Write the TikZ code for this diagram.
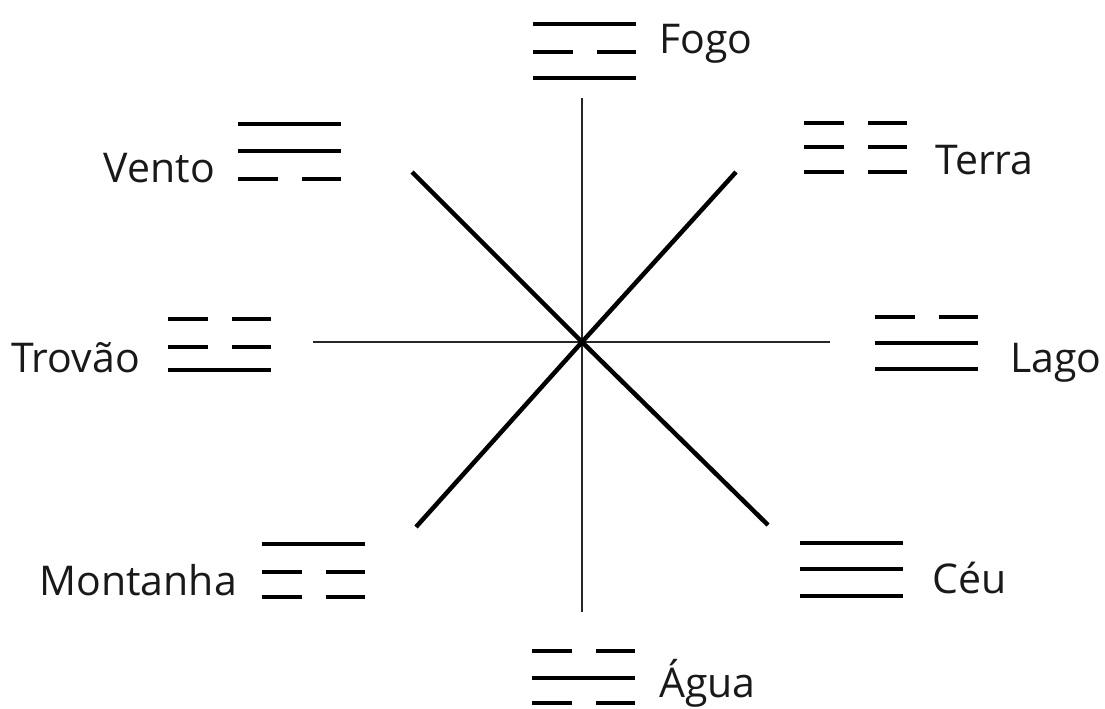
\documentclass[tikz,border=0pt]{standalone}
\usepackage{fontspec}
\setmainfont{Open Sans}
\tikzset{
  tri/.style={line width=3.2pt, black},
  axis/.style={line width=2.4pt, black!85},
  diag/.style={line width=4.5pt, black},
  lbl/.style={font=\fontsize{41}{48}\selectfont, inner sep=0pt, text=black!90}
}
\newcommand\trigYang[2]{\draw[tri] (#1,#2) -- ++(103,0);}
\newcommand\trigYin[2]{\draw[tri] (#1,#2) -- ++(40,0) (#1+64,#2) -- ++(39,0);}
\begin{document}
\begin{tikzpicture}[x=1pt,y=-1pt]
\useasboundingbox (0,0) rectangle (1105,709);
% centre and line ends
\coordinate (c) at (582,342);
\coordinate (vtop) at (582,98);
\coordinate (vbot) at (582,612);
\coordinate (hleft) at (313,342);
\coordinate (hright) at (830,342);
\coordinate (nw) at (412,172);
\coordinate (se) at (768,525);
\coordinate (ne) at (736,172);
\coordinate (sw) at (416,527);
\draw[axis] (vtop) -- (c) -- (vbot);
\draw[axis] (hleft) -- (c) -- (hright);
\draw[diag] (nw) -- (c) -- (se);
\draw[diag] (ne) -- (c) -- (sw);
% Fogo
\trigYang{533}{24}\trigYin{533}{52}\trigYang{533}{78}
\node[lbl, anchor=base west] (fogo) at (659,54) {Fogo};
% Terra
\trigYin{804}{123}\trigYin{804}{147}\trigYin{804}{172}
\node[lbl, anchor=base west] (terra) at (935,174) {Terra};
% Vento
\trigYang{238}{124}\trigYang{238}{151}\trigYin{238}{179}
\node[lbl, anchor=base east] (vento) at (215,182) {Vento};
% Trovao
\trigYin{168}{319}\trigYin{168}{347}\trigYang{168}{370}
\node[lbl, anchor=base east] (trovao) at (140,372) {Trovão};
% Lago
\trigYin{875}{317}\trigYang{875}{343}\trigYang{875}{369}
\node[lbl, anchor=base west] (lago) at (1010,372) {Lago};
% Montanha
\trigYang{262}{544}\trigYin{262}{572}\trigYin{262}{597}
\node[lbl, anchor=base east] (montanha) at (237,595) {Montanha};
% Ceu
\trigYang{800}{543}\trigYang{800}{569}\trigYang{800}{596}
\node[lbl, anchor=base west] (ceu) at (932,593) {Céu};
% Agua
\trigYin{532}{651}\trigYang{532}{678}\trigYin{532}{703}
\node[lbl, anchor=base west] (agua) at (659,697) {Água};
\end{tikzpicture}
\end{document}
